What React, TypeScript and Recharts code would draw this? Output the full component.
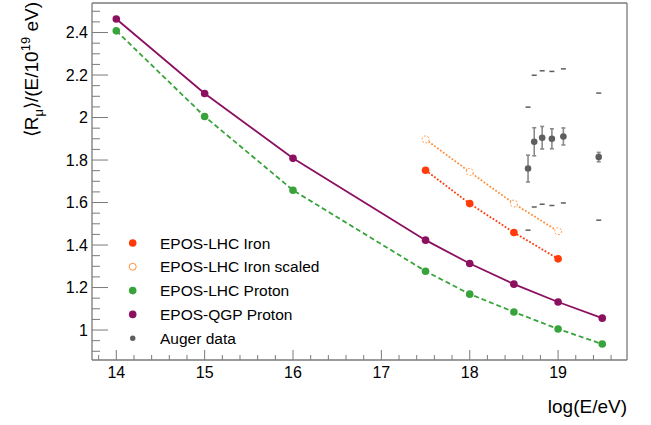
import React from "react";
import {
  ComposedChart,
  Line,
  Scatter,
  XAxis,
  YAxis,
  ErrorBar,
  ReferenceLine,
  Legend,
} from "recharts";

// simulated points
const energies = [14, 15, 16, 17.5, 18, 18.5, 19, 19.5];
const qgpProton = [2.464, 2.113, 1.808, 1.423, 1.313, 1.216, 1.132, 1.056];
const lhcProton = [2.408, 2.005, 1.658, 1.277, 1.169, 1.085, 1.005, 0.934];
const ironEnergies = [17.5, 18, 18.5, 19];
const lhcIron = [1.752, 1.595, 1.459, 1.335];
const lhcIronScaled = [1.897, 1.744, 1.595, 1.465];

// Auger measurement
const augerEnergies = [18.66, 18.73, 18.82, 18.93, 19.06, 19.46];
const augerValues = [1.76, 1.886, 1.905, 1.9, 1.911, 1.814];
const augerStatErr = [0.063, 0.066, 0.053, 0.047, 0.04, 0.022];
const augerSysHigh = [2.049, 2.199, 2.22, 2.217, 2.229, 2.115];
const augerSysLow = [1.47, 1.579, 1.592, 1.586, 1.598, 1.517];

const xMajorTicks = [14, 15, 16, 17, 18, 19];
const yMajorLabels = ["1", "1.2", "1.4", "1.6", "1.8", "2", "2.2", "2.4"];

const legendLabels = [
  "EPOS-LHC Iron",
  "EPOS-LHC Iron scaled",
  "EPOS-LHC Proton",
  "EPOS-QGP Proton",
  "Auger data",
];

const X_DOMAIN: [number, number] = [13.725, 19.78];
const Y_DOMAIN: [number, number] = [0.859, 2.539];

const FONT = "'Liberation Sans', Arial, Helvetica, sans-serif";
const AXIS = "#7a7a7a";
const PURPLE = "#8b1060";
const GREEN = "#38a33a";
const IRON = "#ff3b0a";
const SCALED = "#ff8f3a";
const AUGER = "#5e5e5e";

const pairs = (xs: number[], ys: number[]) => xs.map((x, i) => ({ x, y: ys[i] }));

const qgpData = pairs(energies, qgpProton);
const lhcData = pairs(energies, lhcProton);
const ironData = pairs(ironEnergies, lhcIron);
const scaledData = pairs(ironEnergies, lhcIronScaled);
const augerData = augerEnergies.map((x, i) => ({ x, y: augerValues[i], err: augerStatErr[i] }));
const sysData = [...pairs(augerEnergies, augerSysHigh), ...pairs(augerEnergies, augerSysLow)];

// ROOT style axes: major + minor divisions
const xTicks: number[] = [];
for (let i = 69; i <= 98; i++) xTicks.push(Math.round(i * 20) / 100);
const yTicks: number[] = [];
for (let i = 18; i <= 50; i++) yTicks.push(Math.round(i * 5) / 100);

const XTick = (props: any) => {
  const { x, y, payload } = props;
  const v = payload.value;
  const major = xMajorTicks.includes(v);
  return (
    <g>
      <line x1={x} x2={x} y1={y} y2={y - (major ? 10 : 5)} stroke={AXIS} strokeWidth={1} />
      {major && (
        <text x={x} y={y + 18} textAnchor="middle" fontSize={16} fontFamily={FONT} fill="#000">
          {String(v)}
        </text>
      )}
    </g>
  );
};

const YTick = (props: any) => {
  const { x, y, payload } = props;
  const v = payload.value;
  const label = String(Math.round(v * 100) / 100);
  const major = yMajorLabels.includes(label);
  return (
    <g>
      <line x1={x} x2={x + (major ? 16 : 8)} y1={y} y2={y} stroke={AXIS} strokeWidth={1} />
      {major && (
        <text x={x - 4} y={y + 5.5} textAnchor="end" fontSize={16} fontFamily={FONT} fill="#000">
          {label}
        </text>
      )}
    </g>
  );
};

const SysMark = (props: any) => {
  const { cx, cy } = props;
  return <line x1={cx - 2.5} x2={cx + 2.5} y1={cy} y2={cy} stroke={AUGER} strokeWidth={1.5} />;
};

const AugerDot = (props: any) => {
  const { cx, cy } = props;
  return <circle cx={cx} cy={cy} r={3.3} fill={AUGER} />;
};

const legendMarkers = [
  { r: 3.8, fill: IRON, stroke: "none" },
  { r: 3.5, fill: "#fff", stroke: SCALED },
  { r: 3.8, fill: GREEN, stroke: "none" },
  { r: 3.8, fill: PURPLE, stroke: "none" },
  { r: 2.7, fill: AUGER, stroke: "none" },
];

const LegendBox = () => (
  <svg width={250} height={130}>
    {legendLabels.map((label, i) => {
      const cy = 18 + i * 23.8;
      const m = legendMarkers[i];
      return (
        <g key={label}>
          <circle cx={22.7} cy={cy} r={m.r} fill={m.fill} stroke={m.stroke} strokeWidth={1} />
          <text x={50} y={cy + 5.5} fontSize={15.5} fontFamily={FONT} fill="#000">
            {label}
          </text>
        </g>
      );
    })}
  </svg>
);

export default function App() {
  return (
    <div style={{ position: "absolute", left: 0, top: 0, width: 651, height: 425, background: "#fff" }}>
      <ComposedChart width={651} height={425} margin={{ top: 3, right: 24, bottom: 0, left: 0 }}>
        <XAxis
          dataKey="x"
          type="number"
          domain={X_DOMAIN}
          allowDataOverflow
          ticks={xTicks}
          interval={0}
          tick={<XTick />}
          tickLine={false}
          tickSize={0}
          tickMargin={0}
          height={65}
          axisLine={{ stroke: AXIS, strokeWidth: 1.3 }}
        />
        <YAxis
          dataKey="y"
          type="number"
          domain={Y_DOMAIN}
          allowDataOverflow
          ticks={yTicks}
          interval={0}
          tick={<YTick />}
          tickLine={false}
          tickSize={0}
          tickMargin={0}
          width={92}
          axisLine={{ stroke: AXIS, strokeWidth: 1.3 }}
        />
        <ReferenceLine x={X_DOMAIN[1]} stroke={AXIS} strokeWidth={1.3} />
        <ReferenceLine y={Y_DOMAIN[1]} stroke={AXIS} strokeWidth={1.3} />
        <Legend
          layout="vertical"
          align="center"
          verticalAlign="middle"
          wrapperStyle={{ position: "absolute", left: 110, top: 225, width: 250, height: 130 }}
          content={() => <LegendBox />}
        />
        <Scatter data={sysData} dataKey="y" shape={<SysMark />} isAnimationActive={false} />
        <Scatter data={augerData} dataKey="y" shape={<AugerDot />} isAnimationActive={false}>
          <ErrorBar dataKey="err" direction="y" width={2} stroke="#8a8a8a" strokeWidth={1.6} />
        </Scatter>
        <Line
          data={lhcData}
          dataKey="y"
          type="linear"
          stroke={GREEN}
          strokeWidth={1.8}
          strokeDasharray="5 3"
          dot={{ r: 3.8, fill: GREEN, stroke: GREEN, strokeWidth: 0 }}
          isAnimationActive={false}
        />
        <Line
          data={qgpData}
          dataKey="y"
          type="linear"
          stroke={PURPLE}
          strokeWidth={1.8}
          dot={{ r: 3.8, fill: PURPLE, stroke: PURPLE, strokeWidth: 0 }}
          isAnimationActive={false}
        />
        <Line
          data={scaledData}
          dataKey="y"
          type="linear"
          stroke={SCALED}
          strokeWidth={1.8}
          strokeDasharray="1.8 1.8"
          dot={{ r: 3.5, fill: "#fff", stroke: SCALED, strokeWidth: 1 }}
          isAnimationActive={false}
        />
        <Line
          data={ironData}
          dataKey="y"
          type="linear"
          stroke={IRON}
          strokeWidth={1.8}
          strokeDasharray="1.8 1.8"
          dot={{ r: 3.8, fill: IRON, stroke: IRON, strokeWidth: 0 }}
          isAnimationActive={false}
        />
      </ComposedChart>
      <svg
        width={651}
        height={425}
        style={{ position: "absolute", left: 0, top: 0, pointerEvents: "none" }}
      >
        <text x={627} y={413} textAnchor="end" fontSize={19} fontFamily={FONT} fill="#000">
          log(E/eV)
        </text>
        <text
          transform="translate(37.5, 2) rotate(-90)"
          textAnchor="end"
          fontSize={19}
          fontFamily={FONT}
          fill="#000"
        >
          ⟨R<tspan fontSize={13} dy={5}>μ</tspan>
          <tspan dy={-5}>⟩/(E/10</tspan>
          <tspan fontSize={13} dy={-8}>19</tspan>
          <tspan dy={8}> eV)</tspan>
        </text>
      </svg>
    </div>
  );
}
